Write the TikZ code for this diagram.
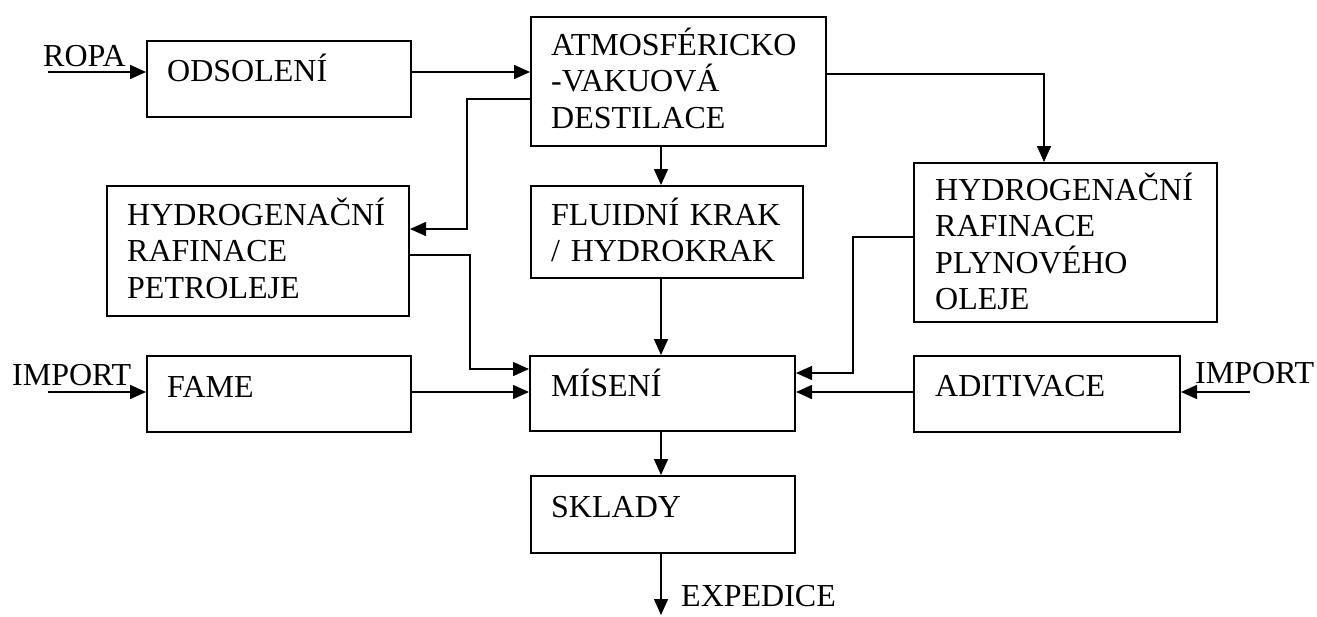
\documentclass[tikz,border=0pt]{standalone}
\usepackage{fontspec}
\setmainfont{Liberation Serif}
\usetikzlibrary{arrows.meta}
\begin{document}
\begin{tikzpicture}[x=1pt,y=-1pt,
  blk/.style={draw, line width=2pt, rectangle, inner sep=0pt, anchor=north west},
  txt/.style={inner sep=0pt, anchor=base west, font=\fontsize{32}{36.5}\selectfont, align=left, text width=300pt},
  lbl/.style={inner sep=0pt, anchor=base west, font=\fontsize{32}{36.5}\selectfont},
  con/.style={line width=1.5pt, -{Triangle[length=16pt,width=14pt]}}]
\useasboundingbox (0,0) rectangle (1317,616);

% boxes
\node[blk, minimum width=264pt, minimum height=76pt]  (ods) at (146,40)  {};
\node[blk, minimum width=295pt, minimum height=129pt] (atm) at (530,16)  {};
\node[blk, minimum width=272pt, minimum height=92pt]  (flu) at (530,185) {};
\node[blk, minimum width=302pt, minimum height=130pt] (hyl) at (106,185) {};
\node[blk, minimum width=303pt, minimum height=159pt] (hyr) at (913,162) {};
\node[blk, minimum width=264pt, minimum height=76pt]  (fam) at (146,355) {};
\node[blk, minimum width=265pt, minimum height=75pt]  (mis) at (529,355) {};
\node[blk, minimum width=266pt, minimum height=76pt]  (adi) at (913,355) {};
\node[blk, minimum width=264pt, minimum height=77pt]  (skl) at (530,475) {};

% box texts
\node[txt] (t-ods) at (167,81)  {ODSOLENÍ};
\node[txt] (t-atm) at (551,55)  {ATMOSFÉRICKO\\-VAKUOVÁ\\DESTILACE};
\node[txt] (t-flu) at (551,225) {FLUIDNÍ KRAK\\/ HYDROKRAK};
\node[txt] (t-hyl) at (127,225) {HYDROGENAČNÍ\\RAFINACE\\PETROLEJE};
\node[txt] (t-hyr) at (935,200) {HYDROGENAČNÍ\\RAFINACE\\PLYNOVÉHO\\OLEJE};
\node[txt] (t-fam) at (167,397) {FAME};
\node[txt] (t-mis) at (551,396) {MÍSENÍ};
\node[txt] (t-adi) at (935,396) {ADITIVACE};
\node[txt] (t-skl) at (551,517) {SKLADY};

% free labels
\node[lbl] (t-ropa) at (43,66)   {ROPA};
\node[lbl] (t-impl) at (12,385)  {IMPORT};
\node[lbl] (t-impr) at (1195,383) {IMPORT};
\node[lbl] (t-exp)  at (681,606) {EXPEDICE};

% helper coordinates
\coordinate (ropa) at (48,72);
\coordinate (impl) at (48,392);
\coordinate (impr) at (1250,392);
\coordinate (vx) at (661,0);
\coordinate (exp) at (661,615);
\coordinate (b1) at (467,99);
\coordinate (b2) at (467,229);
\coordinate (b3) at (1044,74);
\coordinate (b4) at (470,255);
\coordinate (b5) at (470,369);
\coordinate (b6) at (853,237);
\coordinate (b7) at (853,373);

% connectors
\draw[con] (ropa) -- (ropa -| ods.west);
\draw[con] (ods.east |- ropa) -- (atm.west |- ropa);
\draw[con] (atm.west |- b1) -- (b1) -- (b2) -- (hyl.east |- b2);
\draw[con] (atm.south -| vx) -- (flu.north -| vx);
\draw[con] (atm.east |- b3) -- (b3) -- (b3 |- hyr.north);
\draw[con] (hyl.east |- b4) -- (b4) -- (b5) -- (mis.west |- b5);
\draw[con] (impl) -- (impl -| fam.west);
\draw[con] (fam.east |- impl) -- (mis.west |- impl);
\draw[con] (flu.south -| vx) -- (mis.north -| vx);
\draw[con] (hyr.west |- b6) -- (b6) -- (b7) -- (mis.east |- b7);
\draw[con] (adi.west |- impr) -- (mis.east |- impr);
\draw[con] (impr) -- (impr -| adi.east);
\draw[con] (mis.south -| vx) -- (skl.north -| vx);
\draw[con] (skl.south -| vx) -- (exp);
\end{tikzpicture}
\end{document}
